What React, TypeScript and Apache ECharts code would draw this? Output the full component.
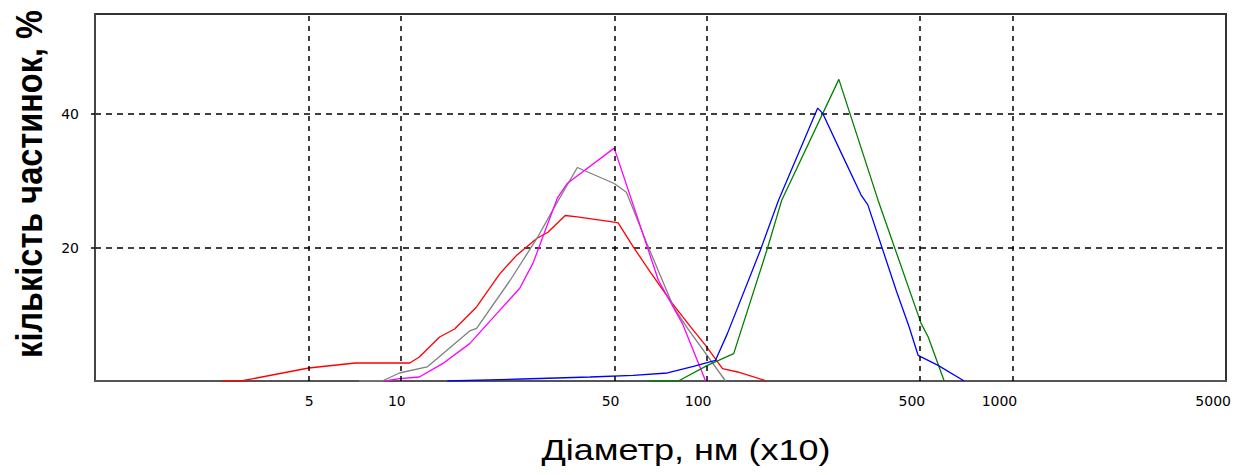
import { useEffect, useRef } from "react";
import * as echarts from "echarts";

// Tick labels
const xTickLabels = [5, 10, 50, 100, 500, 1000, 5000];
const xGridValues = [5, 10, 50, 100, 500, 1000];
const yTickLabels = [20, 40];

const xTitle = "Діаметр, нм (x10)";
const yTitle = "кількість частинок, %";

// Series values: [diameter (x10 nm), count %]
const redData: [number, number][] = [
  [2.6, 0], [3.0, 0], [5.0, 1.95], [7.1, 2.7], [10.7, 2.7], [11.5, 3.6], [13.4, 6.6],
  [15.0, 7.8], [17.7, 11.1], [21.1, 16.1], [24.0, 18.9], [27.9, 21.4], [30.3, 22.3],
  [34.5, 24.8], [37.8, 24.6], [49.9, 23.8], [51.4, 23.7], [57.6, 20.1], [65.5, 16.3],
  [77.4, 11.6], [88.7, 8.1], [99.3, 5.35], [112.8, 1.86], [126.4, 1.35], [157.3, 0],
];
const grayData: [number, number][] = [
  [7.3, 0], [8.7, 0], [9.9, 1.2], [12.2, 2.1], [16.8, 7.5], [17.7, 7.9], [22.8, 15.1],
  [27.9, 21.4], [32.5, 26.8], [37.8, 32.0], [49.9, 29.6], [54.7, 28.3], [64.1, 20.4],
  [78.0, 11.1], [86.7, 7.9], [115.4, 0],
];
const magentaData: [number, number][] = [
  [8.9, 0], [9.9, 0.36], [11.5, 0.6], [13.7, 2.6], [16.8, 5.6], [20.6, 10.1], [24.5, 13.9],
  [27.1, 17.7], [32.5, 27.4], [35.0, 29.6], [49.9, 34.9], [69.6, 15.1], [83.4, 8.6], [99.3, 0],
];
const greenData: [number, number][] = [
  [64.5, 0], [80.9, 0], [100.7, 2.35], [122.7, 4.1], [158.5, 20.0], [176.2, 27.1],
  [270.9, 45.2], [363.9, 27.1], [503.5, 8.6], [530.9, 6.6], [598.9, 0],
];
const blueData: [number, number][] = [
  [14.2, 0], [25.0, 0.3], [41.6, 0.6], [57.6, 0.85], [74.5, 1.2], [90.6, 2.2], [107.0, 3.1],
  [117.0, 7.1], [150.0, 19.6], [172.0, 27.1], [231.0, 40.9], [240.0, 40.1], [275.0, 34.3],
  [320.0, 27.9], [337.0, 26.4], [417.0, 13.6], [460.0, 8.1], [492.0, 3.85], [572.0, 2.35],
  [696.0, 0],
];

const seriesDefs = [
  { name: "red", color: "#ff0000", data: redData },
  { name: "gray", color: "#808080", data: grayData },
  { name: "magenta", color: "#ff00ff", data: magentaData },
  { name: "green", color: "#008000", data: greenData },
  { name: "blue", color: "#0000ff", data: blueData },
];

const tickFont = { color: "#000", fontSize: 14, fontFamily: "DejaVu Sans" };

export default function App() {
  const ref = useRef<HTMLDivElement>(null);
  useEffect(() => {
    if (!ref.current) return;
    const chart = echarts.init(ref.current, null, { renderer: "svg" });
    chart.setOption({
      animation: false,
      backgroundColor: "#fff",
      grid: {
        left: 95,
        right: 16,
        top: 14,
        bottom: 94,
        show: true,
        borderColor: "#333",
        borderWidth: 2,
        containLabel: false,
        outerBoundsMode: "none",
      },
      xAxis: {
        type: "log",
        logBase: 10,
        min: 1,
        max: 5000,
        axisLine: { show: true, lineStyle: { color: "#555", width: 2 } },
        axisTick: { show: false },
        axisLabel: { show: false },
        splitLine: { show: false },
        minorTick: { show: false },
        minorSplitLine: { show: false },
      },
      yAxis: {
        type: "value",
        min: 0,
        max: 55,
        interval: 20,
        axisLine: { show: true, lineStyle: { color: "#444", width: 2 } },
        axisTick: {
          show: true,
          length: 4,
          customValues: yTickLabels,
          lineStyle: { color: "#000", width: 1.5 },
        },
        axisLabel: {
          show: true,
          margin: 16,
          customValues: yTickLabels,
          ...tickFont,
        },
        splitLine: {
          show: true,
          lineStyle: { color: "#000", type: [6, 5], width: 1.5 },
        },
      },
      graphic: [
        {
          type: "text",
          x: 29,
          y: 184,
          rotation: Math.PI / 2,
          scaleY: 1.15,
          style: {
            text: yTitle,
            font: 'bold 32.5px "Liberation Sans"',
            fill: "#000",
            textAlign: "center",
            textVerticalAlign: "middle",
          },
        },
        {
          type: "text",
          x: 686,
          y: 450,
          scaleX: 1.2,
          style: {
            text: xTitle,
            font: '30px "Liberation Sans"',
            fill: "#000",
            textAlign: "center",
            textVerticalAlign: "middle",
          },
        },
      ],
      series: seriesDefs.map((s, i) => ({
        type: "line",
        name: s.name,
        data: s.data,
        symbol: "none",
        showSymbol: false,
        silent: true,
        lineStyle: { color: s.color, width: 1.3 },
        itemStyle: { color: s.color },
        emphasis: { disabled: true },
        z: 3,
        markLine:
          i === 0
            ? {
                silent: true,
                symbol: ["none", "none"],
                animation: false,
                emphasis: { disabled: true },
                lineStyle: { color: "#000", type: [5, 5], width: 1.5 },
                label: {
                  show: true,
                  position: "start",
                  distance: 13,
                  align: "right",
                  padding: [0, -5, 0, 0],
                  formatter: (p: any) => String(p.value),
                  ...tickFont,
                },
                data: xTickLabels.map((v) => ({
                  xAxis: v,
                  lineStyle: xGridValues.includes(v)
                    ? undefined
                    : { color: "rgba(0,0,0,0)", width: 0 },
                })),
              }
            : undefined,
      })),
    });
    return () => chart.dispose();
  }, []);
  return (
    <div
      ref={ref}
      style={{ position: "fixed", left: 0, top: 0, width: 1242, height: 475, background: "#fff" }}
    />
  );
}
